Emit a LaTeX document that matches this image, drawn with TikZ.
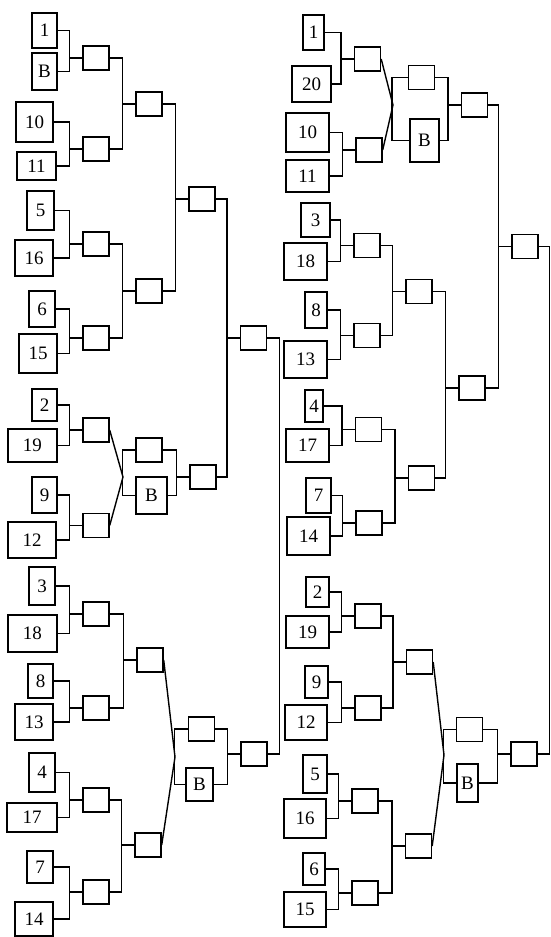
\documentclass[tikz,border=0pt]{standalone}
\usepackage{fontspec}
\setmainfont{Liberation Serif}
\tikzset{boxsize/.style 2 args={minimum width=#1pt, minimum height=#2pt}}
\begin{document}
\begin{tikzpicture}[
x=1pt, y=-1pt,
line width=1.4pt,
seedbox/.style={
draw,
inner sep=0pt,
font=\fontsize{19}{19}\selectfont
},
gamebox/.style={
draw,
inner sep=0pt,
minimum width=26pt,
minimum height=24pt,
font=\fontsize{19}{19}\selectfont
}
]
\useasboundingbox (0,0) rectangle (550,937);

\node[seedbox, boxsize={25}{35}] (l1) at (44.5,30.5) {1};
\node[seedbox, boxsize={25}{37}] (l2) at (44.5,71.5) {B};
\node[seedbox, boxsize={37}{40}] (l3) at (34.5,122) {10};
\node[seedbox, boxsize={39}{28}] (l4) at (36.5,166) {11};
\node[seedbox, boxsize={27}{39}] (l5) at (40.5,210.5) {5};
\node[seedbox, boxsize={38}{36}] (l6) at (34,258) {16};
\node[seedbox, boxsize={26}{36}] (l7) at (42,309) {6};
\node[seedbox, boxsize={38}{39}] (l8) at (38,353.5) {15};
\node[seedbox, boxsize={25}{32}] (l9) at (44.5,405) {2};
\node[seedbox, boxsize={49}{33}] (l10) at (32.5,445.5) {19};
\node[seedbox, boxsize={25}{36}] (l11) at (44.5,495) {9};
\node[seedbox, boxsize={48}{36}] (l12) at (32,540) {12};
\node[seedbox, boxsize={26}{38}] (l13) at (42,586) {3};
\node[seedbox, boxsize={49}{37}] (l14) at (32.5,633.5) {18};
\node[seedbox, boxsize={25}{34}] (l15) at (40.5,681) {8};
\node[seedbox, boxsize={38}{36}] (l16) at (34,722) {13};
\node[seedbox, boxsize={26}{39}] (l17) at (42,772.5) {4};
\node[seedbox, boxsize={50}{29}] (l18) at (32,817.5) {17};
\node[seedbox, boxsize={26}{32}] (l19) at (40,867) {7};
\node[seedbox, boxsize={38}{34}] (l20) at (34,919) {14};

\node[gamebox] (la1) at (96,58) {};
\node[gamebox] (la2) at (96,149) {};
\node[gamebox] (la3) at (96,244) {};
\node[gamebox] (la4) at (96,338) {};
\node[gamebox] (la5) at (96,430) {};
\node[gamebox] (la6) at (96,525.5) {};
\node[gamebox] (la7) at (96,614) {};
\node[gamebox] (la8) at (96,708) {};
\node[gamebox] (la9) at (96,800) {};
\node[gamebox] (la10) at (96,892) {};
\node[gamebox] (lb1) at (149,104) {};
\node[gamebox] (lb2) at (149,291) {};
\node[gamebox] (lb3) at (150,660) {};
\node[gamebox] (lb4) at (148,845) {};
\node[gamebox] (lp1) at (149,450) {};
\node[gamebox, boxsize={31}{37}] (lB1) at (151.5,495.5) {B};
\node[gamebox] (lp2) at (201.5,729) {};
\node[gamebox, boxsize={27}{33}] (lB2) at (199.5,784.5) {B};
\node[gamebox] (lc1) at (202,199) {};
\node[gamebox] (lc2) at (203,477) {};
\node[gamebox] (ld1) at (253.5,338) {};
\node[gamebox] (ld2) at (254,754) {};
\coordinate (lv1) at (123,477);
\coordinate (lv2) at (175,757);

\draw (l1.east) -| ([xshift=-13pt]la1.west) |- (l2.east) ([xshift=-13pt]la1.west) -- (la1.west);
\draw (l3.east) -| ([xshift=-13pt]la2.west) |- (l4.east) ([xshift=-13pt]la2.west) -- (la2.west);
\draw (l5.east) -| ([xshift=-13pt]la3.west) |- (l6.east) ([xshift=-13pt]la3.west) -- (la3.west);
\draw (l7.east) -| ([xshift=-13pt]la4.west) |- (l8.east) ([xshift=-13pt]la4.west) -- (la4.west);
\draw (l9.east) -| ([xshift=-13pt]la5.west) |- (l10.east) ([xshift=-13pt]la5.west) -- (la5.west);
\draw (l11.east) -| ([xshift=-13pt]la6.west) |- (l12.east) ([xshift=-13pt]la6.west) -- (la6.west);
\draw (l13.east) -| ([xshift=-13pt]la7.west) |- (l14.east) ([xshift=-13pt]la7.west) -- (la7.west);
\draw (l15.east) -| ([xshift=-13pt]la8.west) |- (l16.east) ([xshift=-13pt]la8.west) -- (la8.west);
\draw (l17.east) -| ([xshift=-13pt]la9.west) |- (l18.east) ([xshift=-13pt]la9.west) -- (la9.west);
\draw (l19.east) -| ([xshift=-13pt]la10.west) |- (l20.east) ([xshift=-13pt]la10.west) -- (la10.west);
\draw (la1.east) -| ([xshift=-13pt]lb1.west) |- (la2.east) ([xshift=-13pt]lb1.west) -- (lb1.west);
\draw (la3.east) -| ([xshift=-13pt]lb2.west) |- (la4.east) ([xshift=-13pt]lb2.west) -- (lb2.west);
\draw (la7.east) -| ([xshift=-13pt]lb3.west) |- (la8.east) ([xshift=-13pt]lb3.west) -- (lb3.west);
\draw (la9.east) -| ([xshift=-13pt]lb4.west) |- (la10.east) ([xshift=-13pt]lb4.west) -- (lb4.west);
\draw (la5.east) -- (lv1) -- (la6.east);
\draw (lp1.west) -- ++(-13,0) |- (lB1.west);
\draw (lb3.east) -- (lv2) -- (lb4.east);
\draw (lp2.west) -- ++(-13.5,0) |- (lB2.west);
\draw (lb1.east) -| ([xshift=-13pt]lc1.west) |- (lb2.east) ([xshift=-13pt]lc1.west) -- (lc1.west);
\draw (lp1.east) -| ([xshift=-13pt]lc2.west) |- (lB1.east) ([xshift=-13pt]lc2.west) -- (lc2.west);
\draw (lc1.east) -| ([xshift=-13pt]ld1.west) |- (lc2.east) ([xshift=-13pt]ld1.west) -- (ld1.west);
\draw (lp2.east) -| ([xshift=-13pt]ld2.west) |- (lB2.east) ([xshift=-13pt]ld2.west) -- (ld2.west);
\draw (ld1.east) -- ++(12,0) |- (ld2.east);

\node[seedbox, boxsize={21}{35}] (r1) at (313.5,32.5) {1};
\node[seedbox, boxsize={39}{36}] (r2) at (311.5,84) {20};
\node[seedbox, boxsize={43}{39}] (r3) at (307.5,132.5) {10};
\node[seedbox, boxsize={43}{32}] (r4) at (307.5,176) {11};
\node[seedbox, boxsize={29}{34}] (r5) at (315.5,220) {3};
\node[seedbox, boxsize={43}{37}] (r6) at (305.5,261.5) {18};
\node[seedbox, boxsize={22}{36}] (r7) at (316,310) {8};
\node[seedbox, boxsize={43}{37}] (r8) at (305.5,359.5) {13};
\node[seedbox, boxsize={18}{32}] (r9) at (314,406) {4};
\node[seedbox, boxsize={43}{33}] (r10) at (307.5,445.5) {17};
\node[seedbox, boxsize={25}{35}] (r11) at (318.5,495.5) {7};
\node[seedbox, boxsize={43}{38}] (r12) at (308.5,536) {14};
\node[seedbox, boxsize={23}{30}] (r13) at (317.5,592) {2};
\node[seedbox, boxsize={43}{32}] (r14) at (307.5,632) {19};
\node[seedbox, boxsize={23}{32}] (r15) at (316.5,682) {9};
\node[seedbox, boxsize={42}{35}] (r16) at (306,722.5) {12};
\node[seedbox, boxsize={24}{38}] (r17) at (315,774) {5};
\node[seedbox, boxsize={42}{39}] (r18) at (305,818.5) {16};
\node[seedbox, boxsize={22}{32}] (r19) at (314,869) {6};
\node[seedbox, boxsize={42}{35}] (r20) at (305,909.5) {15};

\node[gamebox] (ra1) at (367.5,59) {};
\node[gamebox] (ra2) at (369,150) {};
\node[gamebox] (ra3) at (367,245.5) {};
\node[gamebox] (ra4) at (367,335.5) {};
\node[gamebox] (ra5) at (368.5,429.5) {};
\node[gamebox] (ra6) at (369,523) {};
\node[gamebox] (ra7) at (368,616) {};
\node[gamebox] (ra8) at (368,708) {};
\node[gamebox] (ra9) at (365,801) {};
\node[gamebox] (ra10) at (365,893) {};
\node[gamebox] (rp1) at (421.5,77.5) {};
\node[gamebox, boxsize={29}{43}] (rB1) at (424.5,140.5) {B};
\node[gamebox] (rb1) at (419,291.5) {};
\node[gamebox] (rb2) at (421.5,478) {};
\node[gamebox] (rb3) at (419.5,662) {};
\node[gamebox] (rb4) at (418.5,846) {};
\node[gamebox] (rc1) at (474.5,105) {};
\node[gamebox] (rc2) at (472,388) {};
\node[gamebox] (rp2) at (469.5,729.5) {};
\node[gamebox, boxsize={21}{38}] (rB2) at (467.5,783) {B};
\node[gamebox] (rd1) at (525,246.5) {};
\node[gamebox] (rd2) at (524,754) {};
\coordinate (rv1) at (393,105);
\coordinate (rv2) at (444,755);

\draw (r1.east) -| ([xshift=-13pt]ra1.west) |- (r2.east) ([xshift=-13pt]ra1.west) -- (ra1.west);
\draw (r3.east) -| ([xshift=-13pt]ra2.west) |- (r4.east) ([xshift=-13pt]ra2.west) -- (ra2.west);
\draw (r5.east) -| ([xshift=-13pt]ra3.west) |- (r6.east) ([xshift=-13pt]ra3.west) -- (ra3.west);
\draw (r7.east) -| ([xshift=-13pt]ra4.west) |- (r8.east) ([xshift=-13pt]ra4.west) -- (ra4.west);
\draw (r9.east) -| ([xshift=-13pt]ra5.west) |- (r10.east) ([xshift=-13pt]ra5.west) -- (ra5.west);
\draw (r11.east) -| ([xshift=-13pt]ra6.west) |- (r12.east) ([xshift=-13pt]ra6.west) -- (ra6.west);
\draw (r13.east) -| ([xshift=-13pt]ra7.west) |- (r14.east) ([xshift=-13pt]ra7.west) -- (ra7.west);
\draw (r15.east) -| ([xshift=-13pt]ra8.west) |- (r16.east) ([xshift=-13pt]ra8.west) -- (ra8.west);
\draw (r17.east) -| ([xshift=-13pt]ra9.west) |- (r18.east) ([xshift=-13pt]ra9.west) -- (ra9.west);
\draw (r19.east) -| ([xshift=-13pt]ra10.west) |- (r20.east) ([xshift=-13pt]ra10.west) -- (ra10.west);
\draw (ra1.east) -- (rv1) -- (ra2.east);
\draw (rp1.west) -- ++(-16,0) |- (rB1.west);
\draw (ra3.east) -| ([xshift=-13pt]rb1.west) |- (ra4.east) ([xshift=-13pt]rb1.west) -- (rb1.west);
\draw (ra5.east) -| ([xshift=-13pt]rb2.west) |- (ra6.east) ([xshift=-13pt]rb2.west) -- (rb2.west);
\draw (ra7.east) -| ([xshift=-13pt]rb3.west) |- (ra8.east) ([xshift=-13pt]rb3.west) -- (rb3.west);
\draw (ra9.east) -| ([xshift=-13pt]rb4.west) |- (ra10.east) ([xshift=-13pt]rb4.west) -- (rb4.west);
\draw (rb3.east) -- (rv2) -- (rb4.east);
\draw (rp2.west) -- ++(-12.5,0) |- (rB2.west);
\draw (rp1.east) -| ([xshift=-13pt]rc1.west) |- (rB1.east) ([xshift=-13pt]rc1.west) -- (rc1.west);
\draw (rb1.east) -| ([xshift=-13pt]rc2.west) |- (rb2.east) ([xshift=-13pt]rc2.west) -- (rc2.west);
\draw (rc1.east) -| ([xshift=-13pt]rd1.west) |- (rc2.east) ([xshift=-13pt]rd1.west) -- (rd1.west);
\draw (rp2.east) -| ([xshift=-13pt]rd2.west) |- (rB2.east) ([xshift=-13pt]rd2.west) -- (rd2.west);
\draw (rd1.east) -- ++(11,0) |- (rd2.east);

\end{tikzpicture}
\end{document}
